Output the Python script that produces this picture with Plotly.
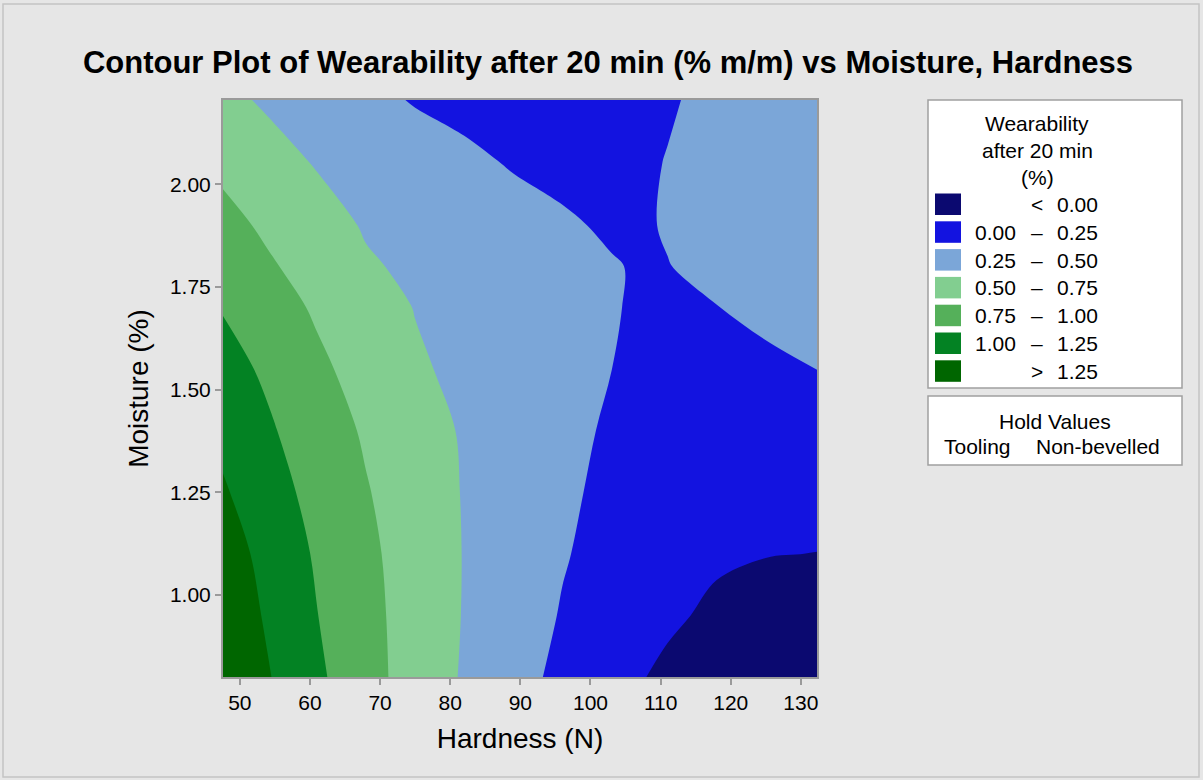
import plotly.graph_objects as go

# ---------------- data ----------------
hardness = [47.5, 54, 61, 68, 75, 82, 89, 96, 103, 107, 111, 118, 125, 132.5]
moisture = [0.8, 0.95, 1.1, 1.25, 1.4, 1.55, 1.7, 1.8, 1.9, 2.05, 2.205]

# wearability after 20 min (%), one row per moisture value
wear_080 = [1.47, 1.266, 1.044, 0.835, 0.648, 0.477, 0.33, 0.197, 0.081, 0.015, -0.047, -0.15, -0.24, -0.32]
wear_095 = [1.42, 1.221, 1.005, 0.82, 0.649, 0.489, 0.359, 0.236, 0.143, 0.091, 0.038, -0.043, -0.112, -0.164]
wear_110 = [1.37, 1.175, 0.972, 0.80, 0.642, 0.492, 0.378, 0.265, 0.18, 0.12, 0.077, 0.032, 0.008, -0.003]
wear_125 = [1.28, 1.10, 0.925, 0.765, 0.623, 0.488, 0.389, 0.29, 0.197, 0.142, 0.112, 0.086, 0.077, 0.081]
wear_140 = [1.19, 1.03, 0.872, 0.722, 0.595, 0.479, 0.394, 0.308, 0.223, 0.167, 0.15, 0.14, 0.146, 0.167]
wear_155 = [1.088, 0.961, 0.796, 0.663, 0.53, 0.45, 0.387, 0.319, 0.251, 0.193, 0.187, 0.193, 0.215, 0.252]
wear_170 = [0.988, 0.856, 0.72, 0.602, 0.493, 0.435, 0.378, 0.32, 0.262, 0.23, 0.224, 0.247, 0.29, 0.33]
wear_180 = [0.906, 0.778, 0.657, 0.525, 0.46, 0.416, 0.366, 0.315, 0.262, 0.235, 0.246, 0.29, 0.32, 0.35]
wear_190 = [0.824, 0.71, 0.594, 0.48, 0.436, 0.382, 0.329, 0.275, 0.225, 0.23, 0.262, 0.30, 0.34, 0.38]
wear_205 = [0.70, 0.592, 0.486, 0.423, 0.36, 0.297, 0.235, 0.20, 0.20, 0.225, 0.256, 0.30, 0.35, 0.40]
wear_2205 = [0.56, 0.468, 0.389, 0.31, 0.235, 0.19, 0.16, 0.15, 0.16, 0.19, 0.235, 0.29, 0.34, 0.39]

wear = [wear_080, wear_095, wear_110, wear_125, wear_140, wear_155,
        wear_170, wear_180, wear_190, wear_205, wear_2205]

levels = [0.0, 0.25, 0.50, 0.75, 1.00, 1.25]
band_colors = ["#0b0970", "#1313e0", "#7ba6d8", "#82ce90", "#55b05a", "#038223", "#006600"]

x_ticks = [50, 60, 70, 80, 90, 100, 110, 120, 130]
y_ticks = [1.00, 1.25, 1.50, 1.75, 2.00]

title_text = "Contour Plot of Wearability after 20 min (% m/m) vs Moisture, Hardness"
legend_title = ["Wearability", "after 20 min", "(%)"]
hold_title = "Hold Values"
hold_name = "Tooling"
hold_value = "Non-bevelled"

# ---------------- figure ----------------
W, H = 1203, 780
L, R, T, B = 223, 817, 100, 677
FONT = "Liberation Sans, Arial, Helvetica, sans-serif"
LEG_SIZE = 21


def u(px):
    return (px - L) / (R - L)


def v(py):
    return (B - py) / (B - T)


n = len(band_colors)
colorscale = [[i / (n - 1), c] for i, c in enumerate(band_colors)]

fig = go.Figure()
fig.add_trace(go.Contour(
    x=hardness, y=moisture, z=wear,
    colorscale=colorscale,
    autocontour=False,
    contours=dict(start=levels[0], end=levels[-1], size=levels[1] - levels[0],
                  coloring="fill", showlines=False),
    line=dict(width=0),
    showscale=False,
    hovertemplate="Hardness %{x}<br>Moisture %{y}<br>Wearability %{z:.2f}<extra></extra>",
))

shapes = []
annotations = []

# outer frame of the graph
shapes.append(dict(type="rect", xref="paper", yref="paper",
                   x0=u(3), x1=u(1199), y0=v(4), y1=v(777),
                   line=dict(color="#c4c4c4", width=1.5), fillcolor="rgba(0,0,0,0)", layer="below"))

# legend box 1
bx0, bx1 = 928, 1182
shapes.append(dict(type="rect", xref="paper", yref="paper",
                   x0=u(bx0), x1=u(bx1), y0=v(100), y1=v(388),
                   line=dict(color="#a0a0a0", width=1.5), fillcolor="white"))
for i, line in enumerate(legend_title):
    annotations.append(dict(xref="paper", yref="paper", x=u(1037), y=v(124 + 26.5 * i),
                            text=line, showarrow=False, xanchor="center", yanchor="middle",
                            font=dict(family=FONT, size=LEG_SIZE, color="black")))

labels_left = [""] + [f"{lv:.2f}" for lv in levels[:-1]] + [""]
labels_mid = ["<"] + ["–"] * (len(levels) - 1) + [">"]
labels_right = [f"{levels[0]:.2f}"] + [f"{lv:.2f}" for lv in levels[1:]] + [f"{levels[-1]:.2f}"]

for i, col in enumerate(band_colors):
    top = 193.5 + 27.8 * i
    shapes.append(dict(type="rect", xref="paper", yref="paper",
                       x0=u(935), x1=u(961), y0=v(top + 21.5), y1=v(top),
                       line=dict(width=0), fillcolor=col))
    cy = top + 11
    if labels_left[i]:
        annotations.append(dict(xref="paper", yref="paper", x=u(1018), y=v(cy),
                                text=labels_left[i], showarrow=False, xanchor="right", yanchor="middle",
                                font=dict(family=FONT, size=LEG_SIZE, color="black")))
    annotations.append(dict(xref="paper", yref="paper", x=u(1037), y=v(cy),
                            text=labels_mid[i], showarrow=False, xanchor="center", yanchor="middle",
                            font=dict(family=FONT, size=LEG_SIZE, color="black")))
    annotations.append(dict(xref="paper", yref="paper", x=u(1100), y=v(cy),
                            text=labels_right[i], showarrow=False, xanchor="right", yanchor="middle",
                            font=dict(family=FONT, size=LEG_SIZE, color="black")))

# legend box 2 (hold values)
shapes.append(dict(type="rect", xref="paper", yref="paper",
                   x0=u(bx0), x1=u(bx1), y0=v(396), y1=v(465),
                   line=dict(color="#a0a0a0", width=1.5), fillcolor="white"))
annotations.append(dict(xref="paper", yref="paper", x=u(1055), y=v(421),
                        text=hold_title, showarrow=False, xanchor="center", yanchor="middle",
                        font=dict(family=FONT, size=LEG_SIZE, color="black")))
annotations.append(dict(xref="paper", yref="paper", x=u(942), y=v(446),
                        text=hold_name, showarrow=False, xanchor="left", yanchor="middle",
                        font=dict(family=FONT, size=LEG_SIZE, color="black")))
annotations.append(dict(xref="paper", yref="paper", x=u(1034), y=v(446),
                        text=hold_value, showarrow=False, xanchor="left", yanchor="middle",
                        font=dict(family=FONT, size=LEG_SIZE, color="black")))

axis_common = dict(
    showgrid=False, zeroline=False,
    showline=True, mirror=True, linecolor="#9a9a9a", linewidth=2,
    ticks="outside", ticklen=6, tickwidth=2, tickcolor="#9a9a9a",
    tickfont=dict(family=FONT, size=21, color="black"),
)

fig.update_layout(
    width=W, height=H,
    margin=dict(l=L, r=W - R, t=T, b=H - B, pad=0),
    paper_bgcolor="#e6e6e6",
    plot_bgcolor="#e6e6e6",
    showlegend=False,
    title=dict(text="<b>" + title_text + "</b>", x=608 / W, xref="container", xanchor="center",
               y=1 - 62 / H, yref="container", yanchor="middle",
               font=dict(family=FONT, size=31, color="black")),
    xaxis=dict(range=[47.6, 132.3], tickvals=x_ticks,
               title=dict(text="Hardness (N)", font=dict(family=FONT, size=28, color="black"), standoff=15),
               **axis_common),
    yaxis=dict(range=[0.8, 2.205], tickvals=y_ticks, tickformat=".2f",
               title=dict(text="Moisture (%)", font=dict(family=FONT, size=28, color="black"), standoff=13),
               **axis_common),
    shapes=shapes,
    annotations=annotations,
)

fig.write_html("out.html", config={"displayModeBar": False},
               post_script="document.body.style.margin='0';document.body.style.overflow='hidden';")
